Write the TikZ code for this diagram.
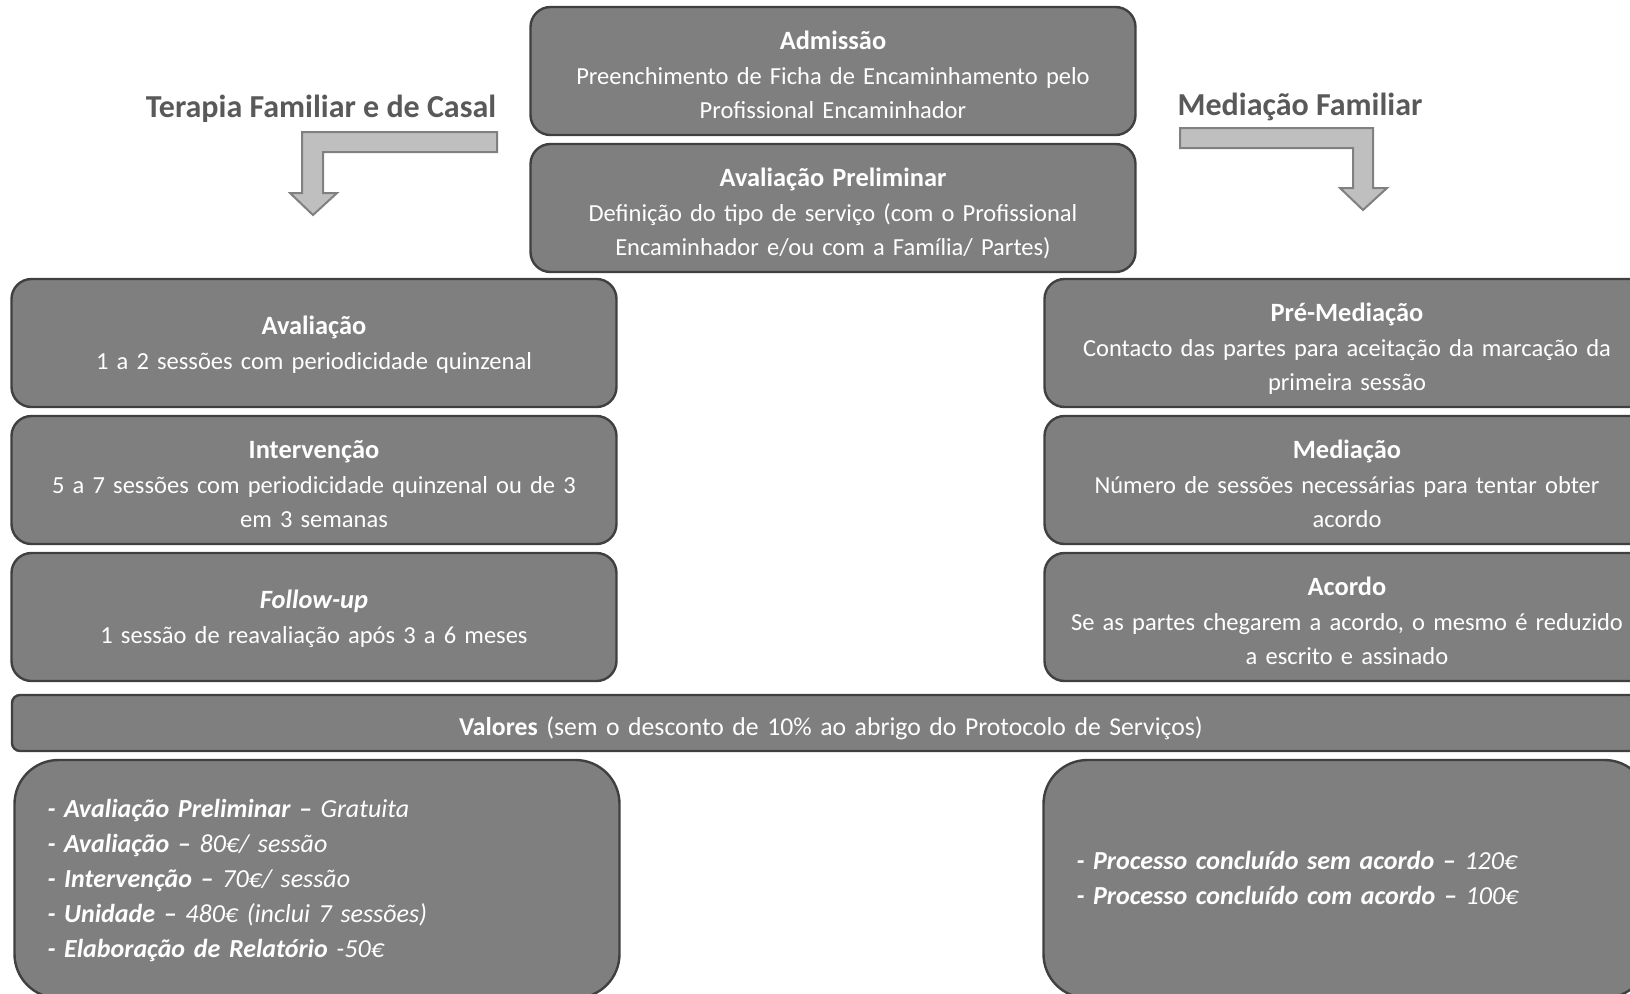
\documentclass[tikz,border=0pt]{standalone}
\usepackage{fontspec}
\setmainfont{Carlito}
\usetikzlibrary{positioning}
\definecolor{boxgray}{HTML}{7F7F7F}
\definecolor{boxline}{HTML}{404040}
\definecolor{arrowfill}{HTML}{BFBFBF}
\definecolor{arrowline}{HTML}{808080}
\definecolor{titlegray}{HTML}{595959}
\newcommand\boxtitle[1]{{\fontsize{13.2}{17.2}\selectfont\bfseries #1}}
\tikzset{node distance = 3.3pt}
\tikzset{block/.style = {draw=boxline, line width=1.2pt, fill=boxgray, rounded corners=10pt, text=white, text width=290.5pt, inner xsep=6pt, minimum height=64pt, align=center, font=\fontsize{12.25}{17.2}\selectfont, execute at begin node={\rule{0pt}{17pt}}, execute at end node={\rule[-4pt]{0pt}{0pt}}}}
\tikzset{twolines/.style = {execute at end node={\rule[-8pt]{0pt}{0pt}}}}
\tikzset{price/.style = {block, rounded corners=22pt, text width=269.5pt, inner xsep=16.5pt, minimum height=119pt, align=left, font=\fontsize{13}{17.5}\selectfont\itshape, execute at begin node={\rule{0pt}{10.5pt}}, execute at end node={\rule[-9pt]{0pt}{0pt}}}}
\tikzset{bar/.style = {block, rounded corners=4pt, text width=807pt, minimum height=28pt, inner ysep=1pt, font=\fontsize{12.85}{17.2}\selectfont, execute at end node={\rule[-5pt]{0pt}{0pt}}}}
\tikzset{header/.style = {text=titlegray, font=\fontsize{16}{19}\selectfont\bfseries}}
\tikzset{bentarrow/.style = {draw=arrowline, line width=1pt, fill=arrowfill}}

\begin{document}
\begin{tikzpicture}[x=0.5pt, y=-0.5pt]
	\useasboundingbox (0,0) rectangle (1630,993);
	\clip (0,0) rectangle (1630,993);
	% Admission
	\node [block] (admissao) at (833,71) {\boxtitle{Admissão}\\Preenchimento de Ficha de Encaminhamento pelo\\Profissional Encaminhador};
	% Preliminary evaluation
	\node [block, below=of admissao] (avalprel) {\boxtitle{Avaliação Preliminar}\\Definição do tipo de serviço (com o Profissional\\Encaminhador e/ou com a Família/ Partes)};
	
	% Family and couple therapy
	\node [header] (titterapia) at (321,109) {Terapia Familiar e de Casal};
	\draw [bentarrow] (497,132) -- (302,132) -- (302,193) -- (290,193) -- (313,215) -- (337,193) -- (323,193) -- (323,152) -- (497,152) -- cycle;
	\node [block, twolines] (aval) at (314,343) {\boxtitle{Avaliação}\\1 a 2 sessões com periodicidade quinzenal};
	\node [block, below=of aval] (interv) {\boxtitle{Intervenção}\\5 a 7 sessões com periodicidade quinzenal ou de 3\\em 3 semanas};
	\node [block, twolines, below=of interv] (followup) {\boxtitle{\itshape Follow-up}\\1 sessão de reavaliação após 3 a 6 meses};
	
	% Family mediation
	\node [header] (titmed) at (1300,107) {Mediação Familiar};
	\draw [bentarrow] (1180,128) -- (1373,128) -- (1373,188) -- (1387,188) -- (1363,210) -- (1340,188) -- (1353,188) -- (1353,148) -- (1180,148) -- cycle;
	\node [block] (premed) at (1347,343) {\boxtitle{Pré-Mediação}\\Contacto das partes para aceitação da marcação da\\primeira sessão};
	\node [block, below=of premed] (med) {\boxtitle{Mediação}\\Número de sessões necessárias para tentar obter\\acordo};
	\node [block, below=of med] (acordo) {\boxtitle{Acordo}\\Se as partes chegarem a acordo, o mesmo é reduzido\\a escrito e assinado};
	
	% Prices
	\node [bar] (valores) at (831,723) {\textbf{Valores} (sem o desconto de 10\% ao abrigo do Protocolo de Serviços)};
	\node [price] (precoterapia) at (317,879) {\textbf{- Avaliação Preliminar –} Gratuita\\\textbf{- Avaliação –} 80€/ sessão\\\textbf{- Intervenção –} 70€/ sessão\\\textbf{- Unidade –} 480€ (inclui 7 sessões)\\\textbf{- Elaboração de Relatório} -50€};
	\node [price] (precomed) at (1346,879) {\textbf{- Processo concluído sem acordo –} 120€\\\textbf{- Processo concluído com acordo –} 100€};
\end{tikzpicture}
\end{document}
